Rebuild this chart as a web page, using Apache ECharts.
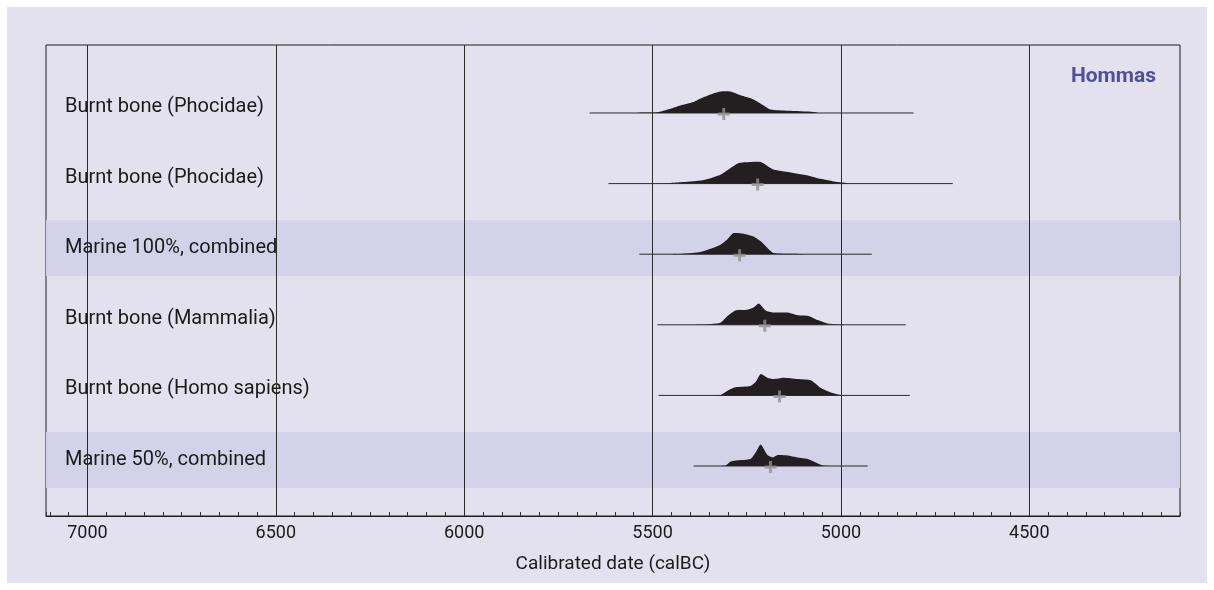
<!DOCTYPE html>
<html>
<head>
<meta charset="utf-8">
<script src="https://cdn.jsdelivr.net/npm/echarts@6/dist/echarts.min.js"></script>
<style>
  html, body { margin: 0; padding: 0; background: #fff; }
  #bg { position: absolute; left: 7px; top: 7px; width: 1200px; height: 576px; background: #e4e1ef; }
  #main { position: absolute; left: 0; top: 0; width: 1214px; height: 590px; }
</style>
</head>
<body>
<div id="bg"></div>
<div id="main"></div>
<script>
// rows, top to bottom
var rowNames = [
  'Burnt bone (Phocidae)',
  'Burnt bone (Phocidae)',
  'Marine 100%, combined',
  'Burnt bone (Mammalia)',
  'Burnt bone (Homo sapiens)',
  'Marine 50%, combined'
];
var shadedRows = [2, 5];
// 95% range ends (calBC) and mean marker
var rangeStart = [5667, 5617, 5535, 5487, 5484, 5391];
var rangeEnd = [4807, 4703, 4918, 4828, 4817, 4929];
var meanYears = [5311, 5221, 5269, 5202, 5163, 5187];
var gridYears = [7000, 6500, 6000, 5500, 5000, 4500];

// probability curves, [calBC, relative probability 0-100]
var prob1 = [[5540, 0], [5532, 2], [5487, 3], [5460, 16], [5426, 35], [5391, 51], [5373, 67], [5346, 86],
  [5320, 100], [5293, 100], [5266, 82], [5232, 63], [5205, 35], [5187, 16], [5141, 10], [5072, 5], [5060, 0]];
var prob2 = [[5500, 0], [5460, 2], [5426, 6], [5373, 14], [5346, 25], [5320, 41], [5293, 73], [5272, 95],
  [5240, 100], [5213, 100], [5181, 67], [5141, 54], [5088, 38], [5054, 22], [5019, 10], [4974, 0]];
var prob3 = [[5450, 0], [5418, 2], [5373, 10], [5346, 25], [5320, 44], [5301, 70], [5285, 98], [5258, 95],
  [5232, 82], [5213, 60], [5195, 29], [5179, 6], [5125, 2], [5100, 0]];
var prob4 = [[5400, 0], [5373, 1], [5320, 10], [5301, 41], [5280, 67], [5248, 70], [5232, 80], [5218, 99],
  [5200, 67], [5179, 57], [5141, 57], [5115, 44], [5086, 41], [5062, 22], [5035, 6], [5001, 1], [4980, 0]];
var prob5 = [[5340, 0], [5320, 2], [5301, 22], [5280, 38], [5240, 44], [5226, 63], [5213, 99], [5195, 82],
  [5179, 76], [5152, 82], [5115, 76], [5080, 70], [5054, 35], [5027, 13], [5001, 2], [4980, 0]];
var prob6 = [[5330, 0], [5306, 2], [5293, 21], [5274, 27], [5240, 33], [5226, 64], [5213, 100], [5195, 51],
  [5181, 40], [5168, 51], [5141, 49], [5115, 40], [5088, 33], [5072, 21], [5048, 2], [5030, 0]];
var probs = [prob1, prob2, prob3, prob4, prob5, prob6];

var PEAK = 0.305;   // row units for probability 100
var labelFont = 'Roboto, "Liberation Sans", sans-serif';

var chart = echarts.init(document.getElementById('main'), null, { renderer: 'canvas' });

var option = {
  backgroundColor: 'transparent',
  animation: false,
  title: {
    text: 'Hommas',
    right: 53,
    top: 61,
    textStyle: { color: '#4f4f9f', fontSize: 21, fontWeight: 'bold', fontFamily: labelFont }
  },
  grid: {
    left: 46, right: 34, top: 45, bottom: 74,
    show: true, borderColor: '#1e1e1e', borderWidth: 1, backgroundColor: 'transparent'
  },
  xAxis: {
    type: 'value',
    inverse: true,
    min: 4100,
    max: 7110,
    interval: 50,
    name: 'Calibrated date (calBC)',
    nameLocation: 'middle',
    nameGap: 39,
    nameTextStyle: { color: '#1a1a1a', fontSize: 19, fontFamily: labelFont },
    axisLine: { show: true, onZero: false, lineStyle: { color: '#1e1e1e', width: 1 } },
    axisTick: { show: true, inside: true, length: 4, lineStyle: { color: '#333' } },
    axisLabel: {
      color: '#1a1a1a', fontSize: 18, fontFamily: labelFont, margin: 8,
      formatter: function (v) { return gridYears.indexOf(v) >= 0 ? String(v) : ''; }
    },
    splitLine: { show: false }
  },
  yAxis: {
    type: 'value',
    inverse: true,
    min: -0.963,
    max: 5.708,
    show: false,
    splitLine: { show: false }
  },
  series: [
    {
      // shaded bands
      type: 'scatter',
      z: 1,
      silent: true,
      data: [],
      markArea: {
        silent: true,
        itemStyle: { color: '#d4d2e8' },
        data: shadedRows.map(function (r) { return [{ yAxis: r - 0.48 }, { yAxis: r + 0.31 }]; })
      }
    },
    {
      // vertical grid lines
      type: 'scatter',
      z: 2,
      silent: true,
      data: [],
      markLine: {
        silent: true,
        symbol: 'none',
        label: { show: false },
        lineStyle: { color: '#2a2a2a', width: 1, type: 'solid' },
        data: gridYears.map(function (y) { return { xAxis: y }; })
      }
    },
    {
      type: 'custom',
      z: 3,
      silent: true,
      data: rowNames.map(function (n, i) { return [meanYears[i], i]; }),
      renderItem: function (params, api) {
        var r = params.dataIndex;
        var a = api.coord([rangeStart[r], r]);
        var b = api.coord([rangeEnd[r], r]);
        var pts = probs[r].map(function (p) { return api.coord([p[0], r - p[1] / 100 * PEAK]); });
        var left = api.coord([7110, r]);
        return {
          type: 'group',
          children: [
            {
              type: 'line',
              shape: { x1: a[0], y1: a[1], x2: b[0], y2: b[1] },
              style: { stroke: '#2b2b2b', lineWidth: 1 }
            },
            {
              type: 'polygon',
              shape: { points: pts, smooth: 0.2 },
              style: { fill: '#231f20' }
            },
            {
              type: 'text',
              style: {
                x: left[0] + 19, y: left[1] - 6,
                text: rowNames[r],
                fill: '#1a1a1a',
                font: '20px ' + labelFont,
                verticalAlign: 'middle',
                align: 'left'
              }
            }
          ]
        };
      }
    },
    {
      type: 'scatter',
      z: 4,
      silent: true,
      symbol: 'path://M4.5,0H7.5V4.5H12V7.5H7.5V12H4.5V7.5H0V4.5H4.5Z',
      symbolSize: 12,
      symbolOffset: [0, 1],
      itemStyle: { color: '#8e8e8e' },
      data: meanYears.map(function (y, i) { return [y, i]; })
    }
  ]
};

chart.setOption(option);
</script>
</body>
</html>
